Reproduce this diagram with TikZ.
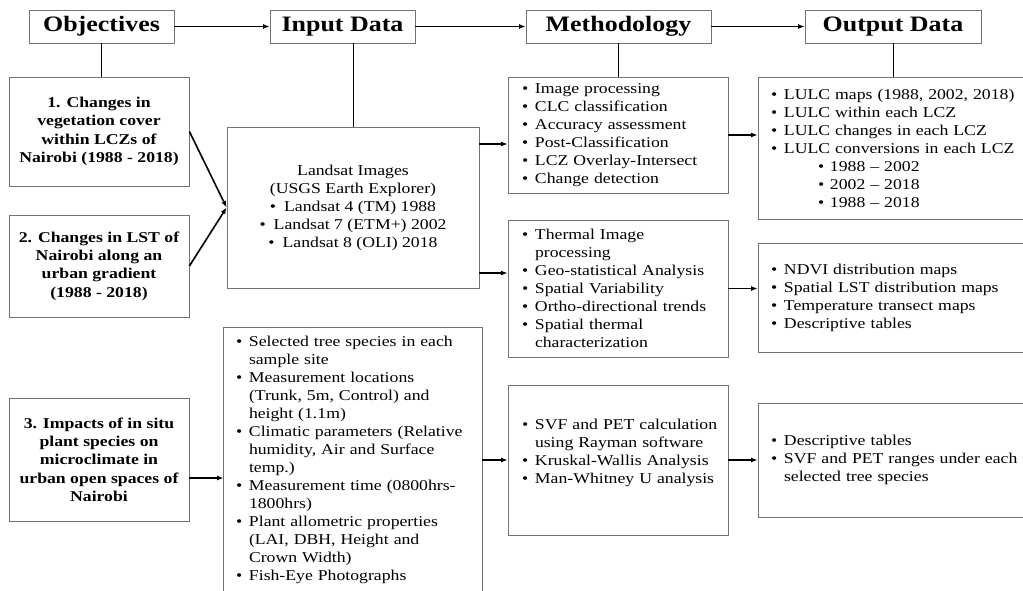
\documentclass[tikz,border=0pt]{standalone}
\usepackage{fontspec}
\setmainfont{Liberation Serif}[FakeStretch=1.18]
\usetikzlibrary{arrows.meta}
\newcommand\bi[1]{\mbox{\makebox[13pt][l]{\textbullet}#1}}
\newcommand\ci[1]{\mbox{\hspace*{13pt}#1}}
\newcommand\si[1]{\mbox{\hspace*{47pt}\makebox[12pt][l]{\textbullet}#1}}
\begin{document}
\begin{tikzpicture}[x=1pt,y=-1pt,
  box/.style={draw=black!55,line width=0.8pt,inner sep=0pt,font=\fontsize{15}{18}\selectfont},
  hdr/.style={box,minimum height=33pt,font=\fontsize{22}{26}\selectfont\bfseries},
  obj/.style={box,minimum width=180pt,align=center,font=\fontsize{15}{18.3}\selectfont\bfseries},
  lst/.style={box,align=left,inner xsep=14pt,inner ysep=0pt},
  arr/.style={-{Latex[length=6.5pt,width=5pt]},line width=1.6pt},
  vline/.style={line width=0.8pt}]
\useasboundingbox (0,0) rectangle (1023,590);
\coordinate (bot) at (0,600);
% headers
\node[hdr,minimum width=145pt] (hObj) at (101.5,26.5) {Objectives};
\node[hdr,minimum width=145pt] (hIn) at (342.5,26.5) {Input Data};
\node[hdr,minimum width=185pt] (hMet) at (618.5,26.5) {Methodology};
\node[hdr,minimum width=176pt] (hOut) at (893,26.5) {Output Data};
% objectives
\node[obj,minimum height=109pt] (o1) at (99,131.5) {1. Changes in\\vegetation cover\\within LCZs of\\Nairobi (1988 - 2018)};
\node[obj,minimum height=102pt] (o2) at (99,266) {2. Changes in LST of\\Nairobi along an\\urban gradient\\(1988 - 2018)};
\node[obj,minimum height=123pt] (o3) at (99,459.5) {3. Impacts of in situ\\plant species on\\microclimate in\\urban open spaces of\\Nairobi};
% input data
\node[box,minimum width=252pt,minimum height=161pt,align=center] (ls) at (353,207.5)
  {Landsat Images\\(USGS Earth Explorer)\\\textbullet\hspace{8pt}Landsat 4 (TM) 1988\\\textbullet\hspace{8pt}Landsat 7 (ETM+) 2002\\\textbullet\hspace{8pt}Landsat 8 (OLI) 2018};
\node[lst,draw=none,text width=234pt,inner xsep=12pt,inner ysep=9pt,anchor=north] (i2) at (353,327)
  {\bi{Selected tree species in each}\\\ci{sample site}\\
   \bi{Measurement locations}\\\ci{(Trunk, 5m, Control) and}\\\ci{height (1.1m)}\\
   \bi{Climatic parameters (Relative}\\\ci{humidity, Air and Surface}\\\ci{temp.)}\\
   \bi{Measurement time (0800hrs-}\\\ci{1800hrs)}\\
   \bi{Plant allometric properties}\\\ci{(LAI, DBH, Height and}\\\ci{Crown Width)}\\
   \bi{Fish-Eye Photographs}};
\draw[draw=black!55,line width=0.8pt] (i2.north west |- bot) -- (i2.north west) -- (i2.north east) -- (i2.north east |- bot);
% methodology
\node[lst,text width=192pt,minimum height=116pt] (m1) at (618,135)
  {\bi{Image processing}\\\bi{CLC classification}\\\bi{Accuracy assessment}\\\bi{Post-Classification}\\\bi{LCZ Overlay-Intersect}\\\bi{Change detection}};
\node[lst,text width=192pt,minimum height=137pt] (m2) at (618,288.5)
  {\bi{Thermal Image}\\\ci{processing}\\\bi{Geo-statistical Analysis}\\\bi{Spatial Variability}\\\bi{Ortho-directional trends}\\\bi{Spatial thermal}\\\ci{characterization}};
\node[lst,text width=192pt,minimum height=150pt] (m3) at (618,460)
  {\bi{SVF and PET calculation}\\\ci{using Rayman software}\\\bi{Kruskal-Wallis Analysis}\\\bi{Man-Whitney U analysis}\\\mbox{}};
% output
\node[lst,inner xsep=13pt,text width=251pt,minimum height=142pt] (out1) at (896.5,148)
  {\bi{LULC maps (1988, 2002, 2018)}\\\bi{LULC within each LCZ}\\\bi{LULC changes in each LCZ}\\\bi{LULC conversions in each LCZ}\\\si{1988 -- 2002}\\\si{2002 -- 2018}\\\si{1988 -- 2018}};
\node[lst,inner xsep=13pt,text width=251pt,minimum height=109pt] (out2) at (896.5,297.5)
  {\bi{NDVI distribution maps}\\\bi{Spatial LST distribution maps}\\\bi{Temperature transect maps}\\\bi{Descriptive tables}};
\node[lst,inner xsep=13pt,text width=251pt,minimum height=114pt] (out3) at (896.5,460)
  {\bi{Descriptive tables}\\\bi{SVF and PET ranges under each}\\\ci{selected tree species}};
% header connectors
\draw[arr] (hObj) -- (hIn);
\draw[arr] (hIn) -- (hMet);
\draw[arr] (hMet) -- (hOut);
\draw[vline] (hObj.south) -- (hObj.south |- o1.north);
\draw[vline] (hIn.south -| ls.north) -- (ls.north);
\draw[vline] (hMet.south) -- (hMet.south |- m1.north);
\draw[vline] (hOut.south) -- (hOut.south |- out1.north);
% flow connectors
\draw[arr] (o1.east) -- (ls.west);
\draw[arr] (o2.east) -- (ls.west);
\coordinate (a1) at ([yshift=-9pt]m1.west);
\draw[arr] (ls.east |- a1) -- (a1);
\coordinate (a2) at ([yshift=15.5pt]m2.west);
\draw[arr] (ls.east |- a2) -- (a2);
\draw[arr] (m1.east) -- (out1.west |- m1.east);
\draw[arr] (m2.east) -- (out2.west |- m2.east);
\coordinate (a3) at ([yshift=-18.5pt]o3.east);
\draw[arr] (a3) -- (i2.west |- a3);
\draw[arr] (i2.east |- m3.west) -- (m3.west);
\draw[arr] (m3.east) -- (out3.west |- m3.east);
\end{tikzpicture}
\end{document}
